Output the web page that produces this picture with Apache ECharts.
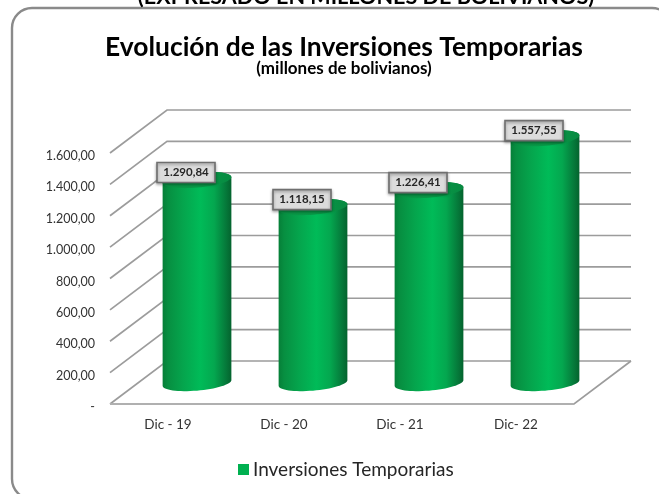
<!DOCTYPE html>
<html><head><meta charset="utf-8">
<style>html,body{margin:0;padding:0;background:#fff;overflow:hidden}#c{width:659px;height:494px}</style>
<script src="https://cdn.jsdelivr.net/npm/echarts@6/dist/echarts.min.js"></script>
</head><body><div id="c"></div>
<script>
const categories = ['Dic - 19', 'Dic - 20', 'Dic - 21', 'Dic- 22'];
const inversiones = [1290.84, 1118.15, 1226.41, 1557.55];
const gridValues = [0, 200, 400, 600, 800, 1000, 1200, 1400, 1600];
const seriesName = 'Inversiones Temporarias';
const titleText = 'Evolución de las Inversiones Temporarias';
const subtitleText = '(millones de bolivianos)';
const clippedHeading = '(EXPRESADO EN MILLONES DE BOLIVIANOS)';

const DX = 57, DY = -43;      // depth of the 3D box
const RX = 34.5, RY = 7.6, TILT = -5 * Math.PI / 180;
const LINE = '#9c9c9c';
const FONT = 'Lato, Carlito, sans-serif';

function fmt(v) {
  if (v === 0) return '-';
  const s = v.toFixed(2).split('.');
  return s[0].replace(/\B(?=(\d{3})+$)/g, '.') + ',' + s[1];
}
function ell(cx, cy, t) {
  const c = Math.cos(t), s = Math.sin(t);
  return [cx + RX * c * Math.cos(TILT) - RY * s * Math.sin(TILT),
          cy + RX * c * Math.sin(TILT) + RY * s * Math.cos(TILT)];
}
function ellipsePts(cx, cy) {
  const p = [];
  for (let i = 0; i < 64; i++) p.push(ell(cx, cy, i / 64 * Math.PI * 2));
  return p;
}
function bodyPts(cx, topY, baseY) {
  const t0 = Math.atan2(-RY * Math.sin(TILT), RX * Math.cos(TILT));
  const p = [];
  for (let i = 0; i <= 32; i++) p.push(ell(cx, topY, t0 + Math.PI + i / 32 * Math.PI));
  for (let i = 0; i <= 32; i++) p.push(ell(cx, baseY, t0 + i / 32 * Math.PI));
  return p;
}
const bodyFill = {
  type: 'linear', x: 0, y: 0, x2: 1, y2: 0,
  colorStops: [
    { offset: 0, color: '#067f38' }, { offset: 0.08, color: '#078f41' }, { offset: 0.3, color: '#05a54d' },
    { offset: 0.55, color: '#00bb58' }, { offset: 0.75, color: '#04a74f' },
    { offset: 0.92, color: '#05793a' }, { offset: 1, color: '#04632e' }
  ]
};
const capFill = {
  type: 'linear', x: 0, y: 0, x2: 1, y2: 0,
  colorStops: [
    { offset: 0, color: '#0a9545' }, { offset: 0.5, color: '#089a48' }, { offset: 1, color: '#078a41' }
  ]
};

function renderWall(params, api) {
  const v = api.value(1);
  const cs = params.coordSys;
  const y = api.coord([0, v])[1];
  const x0 = cs.x, x1 = cs.x + cs.width;
  const style = { stroke: LINE, lineWidth: 1.7, fill: null };
  const kids = [
    { type: 'polyline', shape: { points: [[x0, y], [x0 + DX, y + DY], [x1 + DX, y + DY]] }, style: style }
  ];
  if (v === 0) {
    kids.push({ type: 'polyline', shape: { points: [[x0, y], [x1, y], [x1 + DX, y + DY]] }, style: style });
    kids.push({ type: 'line', shape: { x1: x0, y1: y, x2: x1, y2: y }, style: { stroke: '#b0b0b0', lineWidth: 2 } });
  }
  return { type: 'group', children: kids };
}

function renderBar(params, api) {
  const v = api.value(1);
  const top = api.coord([api.value(0), v]);
  const base = api.coord([api.value(0), 0]);
  const cx = top[0] + DX / 2 + 0.5;
  const topY = top[1] + DY / 2;
  const baseY = base[1] + DY / 2 + 0.5;
  const bx = cx - 11 - 29, by = topY - 7.5 - 10;
  return {
    type: 'group',
    children: [
      { type: 'polygon', shape: { points: bodyPts(cx, topY, baseY) }, style: { fill: bodyFill } },
      { type: 'polygon', shape: { points: ellipsePts(cx, topY) }, style: { fill: capFill } },
      {
        type: 'rect', shape: { x: bx, y: by, width: 58, height: 20 },
        style: { fill: '#dcdcdc', stroke: '#6f6f6f', lineWidth: 1.6,
                 shadowBlur: 3, shadowColor: 'rgba(0,0,0,0.35)', shadowOffsetY: 1.5 }
      },
      {
        type: 'text', x: bx + 29, y: by + 10,
        style: { text: fmt(v), fill: '#262626', font: 'bold 11.5px ' + FONT, align: 'center', verticalAlign: 'middle' }
      }
    ]
  };
}

const chart = echarts.init(document.getElementById('c'), null, { width: 659, height: 494 });
chart.setOption({
  animation: false,
  backgroundColor: '#ffffff',
  graphic: [
    { type: 'rect', z: -1, shape: { x: 12, y: 8, width: 660, height: 491, r: 20 },
      style: { fill: '#fff', stroke: '#8a8a8a', lineWidth: 2.4 } },
    { type: 'text', x: 366, y: -3, style: { text: clippedHeading, fill: '#000', font: 'bold 21.6px ' + FONT, align: 'center', verticalAlign: 'middle' } }
  ],
  title: {
    text: titleText, subtext: subtitleText, left: 339, top: 29, textAlign: 'center', itemGap: 0,
    textStyle: { fontFamily: FONT, fontSize: 26.4, fontWeight: 'bold', color: '#000' },
    subtextStyle: { fontFamily: FONT, fontSize: 17, fontWeight: 'bold', color: '#000' }
  },
  legend: {
    data: [seriesName], left: 233, top: 455, icon: 'rect', itemWidth: 11, itemHeight: 11, itemGap: 4,
    textStyle: { fontFamily: FONT, fontSize: 19, color: '#262626', padding: [0, 0, 0, -1] }
  },
  grid: { left: 110, right: 85, top: 153, bottom: 90 },
  xAxis: {
    type: 'category', data: categories,
    axisLine: { show: false }, axisTick: { show: false }, splitLine: { show: false },
    axisLabel: { fontFamily: FONT, fontSize: 13.5, color: '#333', margin: 14 }
  },
  yAxis: {
    type: 'value', min: 0, max: 1600, interval: 200,
    axisLine: { show: false }, axisTick: { show: false }, splitLine: { show: false },
    axisLabel: { fontFamily: FONT, fontSize: 12.5, color: '#333', margin: 15, lineHeight: 6, verticalAlign: 'top', formatter: fmt }
  },
  series: [
    { type: 'custom', name: 'wall', silent: true, clip: false, z: 1, renderItem: renderWall,
      encode: { x: 0, y: 1 }, data: gridValues.map(v => [0, v]) },
    { type: 'custom', name: seriesName, clip: false, z: 2, renderItem: renderBar,
      itemStyle: { color: '#00b050' },
      encode: { x: 0, y: 1 }, data: inversiones.map((v, i) => [i, v]) }
  ]
});
</script></body></html>
